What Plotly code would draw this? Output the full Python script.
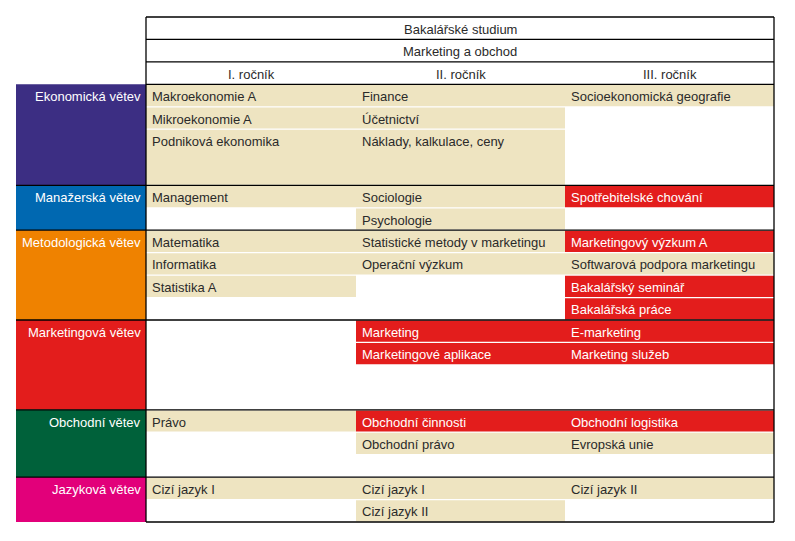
import plotly.graph_objects as go

# ---------------- data ----------------
study = "Bakalářské studium"
program = "Marketing a obchod"
years = ["I. ročník", "II. ročník", "III. ročník"]
branches = ["Ekonomická větev", "Manažerská větev", "Metodologická větev",
            "Marketingová větev", "Obchodní větev", "Jazyková větev"]

year1 = [["Makroekonomie A", "Mikroekonomie A", "Podniková ekonomika"],
         ["Management"],
         ["Matematika", "Informatika", "Statistika A"],
         [],
         ["Právo"],
         ["Cizí jazyk I"]]
year2 = [["Finance", "Účetnictví", "Náklady, kalkulace, ceny"],
         ["Sociologie", "Psychologie"],
         ["Statistické metody v marketingu", "Operační výzkum"],
         ["Marketing", "Marketingové aplikace"],
         ["Obchodní činnosti", "Obchodní právo"],
         ["Cizí jazyk I", "Cizí jazyk II"]]
year3 = [["Socioekonomická geografie"],
         ["Spotřebitelské chování"],
         ["Marketingový výzkum A", "Softwarová podpora marketingu",
          "Bakalářský seminář", "Bakalářská práce"],
         ["E-marketing", "Marketing služeb"],
         ["Obchodní logistika", "Evropská unie"],
         ["Cizí jazyk II"]]
profile_courses = ["Spotřebitelské chování", "Marketingový výzkum A",
                   "Bakalářský seminář", "Bakalářská práce", "Marketing",
                   "Marketingové aplikace", "E-marketing", "Marketing služeb",
                   "Obchodní činnosti", "Obchodní logistika"]

# ---------------- layout / style ----------------
branch_colors = ["#3C2E83", "#0068B1", "#EF8200", "#E31D1C", "#00613A", "#E2007A"]
branch_slots = [4.5, 2, 4, 4, 3, 2]
stretch_last = {(0, 0), (0, 1)}  # (branch, year) whose last cell fills the section
BEIGE = "#EEE4C1"
RED = "#E31D1C"
TXT = "#2A2A2A"
FONT = "Liberation Sans, Arial, sans-serif"
FS = 13

W, H = 795, 541
OFF = 8  # page body margin
X_BR = 16
col_edges = [146, 356, 565, 774]
Y0 = 17
SLOT = (522 - 17) / 22.5
TY = 1  # text vertical nudge

shapes = []
ann = []

def rect(x0, x1, y0, y1, color):
    shapes.append(dict(type="rect", xref="x", yref="y", x0=x0, x1=x1, y0=y0, y1=y1,
                       fillcolor=color, line=dict(width=0), layer="below"))

def line(x0, x1, y0, y1):
    shapes.append(dict(type="line", xref="x", yref="y", x0=x0, x1=x1, y0=y0, y1=y1,
                       line=dict(color="black", width=1.3), layer="above"))

def text(x, y, s, color, anchor="left"):
    ann.append(dict(x=x, y=y + TY, xref="x", yref="y", text=s, showarrow=False,
                    xanchor=anchor, yanchor="middle",
                    font=dict(family=FONT, size=FS, color=color)))

# header rows
mid_all = (col_edges[0] + col_edges[-1]) / 2
text(mid_all, Y0 + 0.5 * SLOT, study, TXT, "center")
text(mid_all, Y0 + 1.5 * SLOT, program, TXT, "center")
for i, yname in enumerate(years):
    text((col_edges[i] + col_edges[i + 1]) / 2, Y0 + 2.5 * SLOT, yname, TXT, "center")

# sections
all_years = [year1, year2, year3]
top = Y0 + 3 * SLOT
section_tops = []
for b, name in enumerate(branches):
    h = branch_slots[b] * SLOT
    section_tops.append(top)
    rect(X_BR, col_edges[0], top, top + h, branch_colors[b])
    text(col_edges[0] - 3, top + 0.5 * SLOT, name, "white", "right")
    for yi, yr in enumerate(all_years):
        courses = yr[b]
        for k, c in enumerate(courses):
            cy0 = top + k * SLOT
            cy1 = cy0 + SLOT
            if (b, yi) in stretch_last and k == len(courses) - 1:
                cy1 = top + h
            col = RED if c in profile_courses else BEIGE
            rect(col_edges[yi], col_edges[yi + 1], cy0 + 0.6, cy1 - 0.6, col)
            text(col_edges[yi] + 4, cy0 + 0.5 * SLOT, c,
                 "white" if c in profile_courses else TXT)
    top += h
bottom = top

# borders
line(col_edges[0], col_edges[-1], Y0, Y0)
line(col_edges[0], col_edges[-1], Y0 + SLOT, Y0 + SLOT)
line(col_edges[0], col_edges[-1], Y0 + 2 * SLOT, Y0 + 2 * SLOT)
line(col_edges[0], col_edges[-1], Y0 + 3 * SLOT, Y0 + 3 * SLOT)
for st in section_tops[1:]:
    line(X_BR, col_edges[-1], st, st)
line(col_edges[0], col_edges[-1], bottom, bottom)
line(col_edges[0], col_edges[0], Y0, bottom)
line(col_edges[-1], col_edges[-1], Y0, bottom)

fig = go.Figure()
fig.update_layout(
    width=W, height=H, margin=dict(l=0, r=0, t=0, b=0),
    paper_bgcolor="white", plot_bgcolor="white",
    xaxis=dict(range=[OFF, OFF + W], visible=False, fixedrange=True),
    yaxis=dict(range=[OFF + H, OFF], visible=False, fixedrange=True),
    shapes=shapes, annotations=ann, showlegend=False,
)
fig.write_html("out.html")
